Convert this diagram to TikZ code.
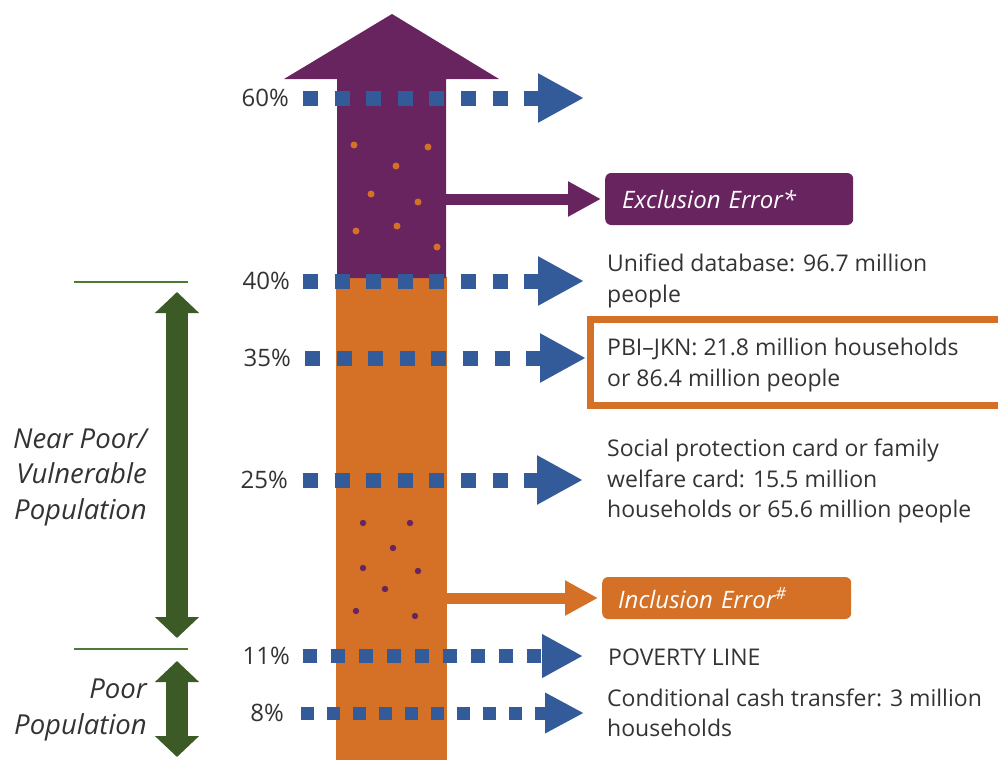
\documentclass[tikz,border=0pt]{standalone}
\usepackage{fontspec}
\setmainfont{Open Sans}
\usetikzlibrary{arrows.meta}
\definecolor{cPurple}{HTML}{68245F}
\definecolor{cOrange}{HTML}{D57027}
\definecolor{cBlue}{HTML}{335A99}
\definecolor{cGreen}{HTML}{3B5A26}
\definecolor{cGreenLine}{HTML}{4F7A36}
\definecolor{cText}{HTML}{333333}
\begin{document}
\begin{tikzpicture}[x=1pt,y=-1pt,
  dotrow/.style n args={4}{draw=cBlue, line width=#1, dash pattern=on #1 off #2,
     -{Triangle[length=#3,width=#4]}},
  pct/.style={font=\fontsize{24}{28}\selectfont, text=cText, anchor=east, inner sep=0pt},
  info/.style={font=\fontsize{23}{30.5}\selectfont, text=cText, anchor=west, align=left, inner sep=0pt},
  side/.style={font=\fontsize{27.5}{35.5}\selectfont\itshape, text=cText, anchor=east, align=right, inner sep=0pt},
  errbox/.style={anchor=west, rounded corners=6pt, text=white, font=\fontsize{24}{28}\selectfont\itshape,
     align=left, inner ysep=0pt},
  errarrow/.style={line width=11pt, -{Triangle[length=33pt,width=33pt]}, shorten >=4pt},
  grarrow/.style={draw=cGreen, line width=22pt, {Triangle[length=21pt,width=43pt]}-{Triangle[length=21pt,width=43pt]}},
]
\useasboundingbox (0,0) rectangle (998,760);

% big arrow
\fill[cOrange] (336,277) rectangle (447,760);
\fill[cPurple] (337,278) -- (337,79) -- (284,79) -- (392,14) -- (499,79) -- (446,79) -- (446,278) -- cycle;

% dots
\foreach \p in {(354,145),(428,147),(396,166),(371,194),(418,202),(397,226),(356,231),(437,247)}
  \fill[cOrange] \p circle (3.5);
\foreach \p in {(363,523),(410,523),(393,548),(363,568),(418,571),(385,589),(356,611),(415,616)}
  \fill[cPurple] \p circle (3.2);

% PBI box
\draw[cOrange, line width=7pt] (1010,319.5) -- (590.5,319.5) -- (590.5,405.5) -- (1010,405.5);

% percentage labels
\node[pct] (p60) at (289,98) {60\%};
\node[pct] (p40) at (290,281) {40\%};
\node[pct] (p35) at (291,358) {35\%};
\node[pct] (p25) at (288,480) {25\%};
\node[pct] (p11) at (290,656) {11\%};
\node[pct] (p8)  at (284,713) {8\%};

% dotted rows
\coordinate (s60) at (303,98);  \coordinate (e60) at (584,98);
\coordinate (s40) at (303,281); \coordinate (e40) at (584,281);
\coordinate (s35) at (305,358); \coordinate (e35) at (586,358);
\coordinate (s25) at (303,480); \coordinate (e25) at (583,480);
\coordinate (s11) at (303,656); \coordinate (e11) at (583,656);
\coordinate (s8)  at (301,713); \coordinate (e8)  at (584,713);
\draw[dotrow={15pt}{16.6pt}{46pt}{46pt}] (s60) -- (e60);
\draw[dotrow={15pt}{16.6pt}{46pt}{46pt}] (s40) -- (e40);
\draw[dotrow={15pt}{16.6pt}{46pt}{46pt}] (s35) -- (e35);
\draw[dotrow={15pt}{16.6pt}{46pt}{46pt}] (s25) -- (e25);
\draw[dotrow={14pt}{14pt}{41pt}{41pt}] (s11) -- (e11);
\draw[dotrow={13pt}{13pt}{39pt}{38pt}] (s8) -- (e8);

% error boxes and arrows
\node[errbox, fill=cPurple, minimum width=248pt, minimum height=52pt, text width=214pt, inner xsep=17pt]
  (excl) at (605,199) {Exclusion Error*};
\node[errbox, fill=cOrange, minimum width=249pt, minimum height=42pt, text width=217pt, inner xsep=16pt]
  (incl) at (602,598) {Inclusion Error\textsuperscript{\#}};
\coordinate (xs) at (446,199);
\coordinate (is) at (447,598);
\draw[errarrow, draw=cPurple, fill=cPurple] (xs) -- (excl.west);
\draw[errarrow, draw=cOrange, fill=cOrange] (is) -- (incl.west);

% info texts
\node[info] (t40) at (607,281) {Unified database: 96.7 million\\people};
\node[info] (t35) at (607,365) {PBI–JKN: 21.8 million households\\or 86.4 million people};
\node[info] (t25) at (607,481) {Social protection card or family\\welfare card: 15.5 million\\households or 65.6 million people};
\node[info] (t11) at (608,657) {POVERTY LINE};
\node[info] (t8)  at (607,713) {Conditional cash transfer: 3 million\\households};

% left side
\coordinate (l1a) at (74,282); \coordinate (l1b) at (188,282);
\coordinate (l2a) at (74,649); \coordinate (l2b) at (188,649);
\draw[cGreenLine, line width=1.5pt] (l1a) -- (l1b);
\draw[cGreenLine, line width=1.5pt] (l2a) -- (l2b);
\coordinate (g1t) at (177,292); \coordinate (g1b) at (177,638);
\coordinate (g2t) at (177,661); \coordinate (g2b) at (177,757);
\draw[grarrow] (g1t) -- (g1b);
\draw[grarrow] (g2t) -- (g2b);
\node[side] (nearpoor) at (147,477) {Near Poor/\\Vulnerable\\Population};
\node[side] (poor) at (147,710) {Poor\\Population};
\end{tikzpicture}
\end{document}
